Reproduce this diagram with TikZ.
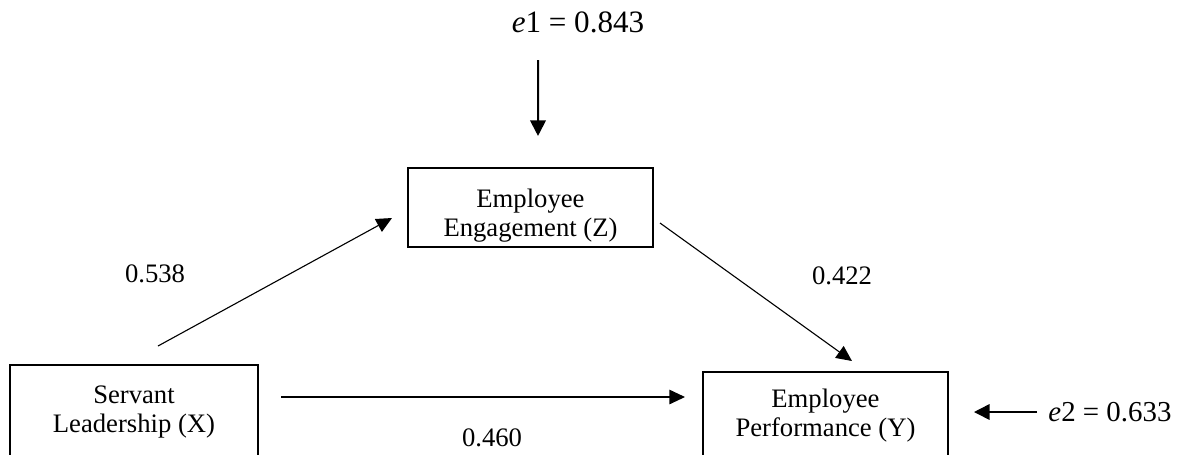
\documentclass[tikz,border=0pt]{standalone}
\usepackage{fontspec}
\setmainfont{Liberation Serif}
\usetikzlibrary{arrows.meta,calc}

\begin{document}
\begin{tikzpicture}[x=0.45pt,y=-0.45pt,
  varbox/.style={draw,line width=0.9pt,align=center,minimum width=110.25pt,font=\fontsize{12}{13}\selectfont},
  coef/.style={inner sep=0pt,font=\fontsize{12}{14}\selectfont},
  effect/.style={line width=0.5pt,-{Triangle[length=7pt,width=6.5pt]}},
  errarrow/.style={line width=0.9pt,-{Triangle[length=7pt,width=7pt]}}]
  \useasboundingbox (0,0) rectangle (1184,454);
  \clip (0,0) rectangle (1184,454);

  \node[varbox,minimum width=111.6pt,minimum height=42.3pt] (X) at (134,412) {Servant\\Leadership (X)};
  \node[varbox,minimum height=35.6pt,inner ysep=0pt,text height=29pt] (Z) at (530.5,207.5) {Employee\\Engagement (Z)};
  \node[varbox,minimum height=39.6pt] (Y) at (825.5,416) {Employee\\Performance (Y)};

  \node[coef,font=\fontsize{14}{16}\selectfont,anchor=base] (e1) at (578,32) {\textit{e}1 = 0.843};
  \node[coef,font=\fontsize{13}{15}\selectfont,anchor=west] (e2) at (1048,412) {\textit{e}2 = 0.633};

  \node[coef] (a) at (155,274) {0.538};
  \node[coef] (b) at (842,276) {0.422};
  \node[coef] (c) at (492,438) {0.460};

  \draw[effect] ($(X.north)+(24,-18)$) -- ($(Z.west)+(-15,10.5)$);
  \draw[effect] ($(Z.east)+(6,15.5)$) -- ($(Y.north)+(26.5,-10)$);
  \draw[effect] ($(X.east)+(22,-15)$) -- ($(Y.west)+(-17,-19)$);
  \draw[errarrow] ($(e1.base)+(-40,28)$) -- ($(Z.north)+(7.5,-31)$);
  \draw[errarrow,line width=0.7pt] ($(e2.west)+(-11,0)$) -- ($(Y.east)+(25,-4)$);
\end{tikzpicture}
\end{document}
